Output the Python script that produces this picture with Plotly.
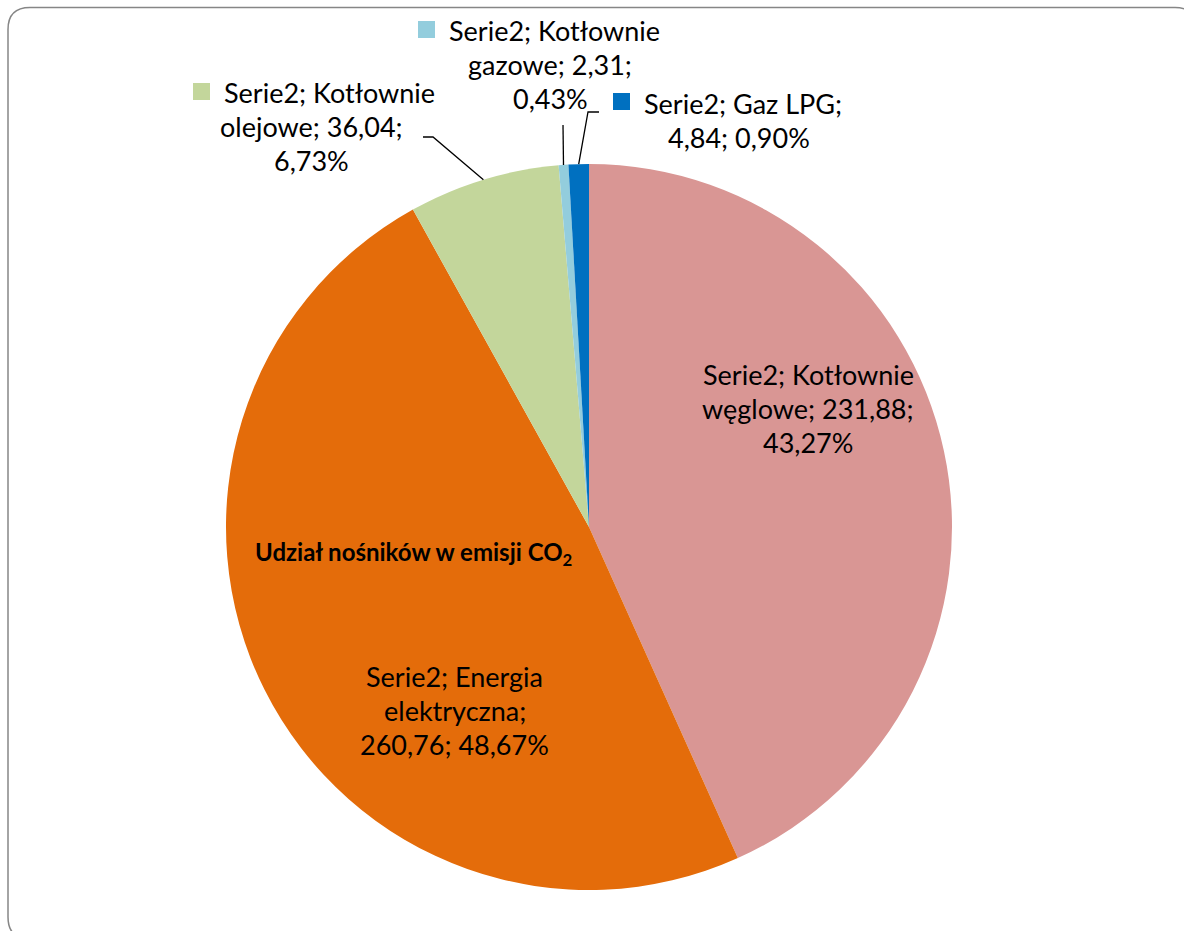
import math
import textwrap
import plotly.graph_objects as go

W, H = 1184, 931

# Data
series_name = "Serie2"
categories = ["Kotłownie węglowe", "Energia elektryczna", "Kotłownie olejowe",
              "Kotłownie gazowe", "Gaz LPG"]
emissions = [231.88, 260.76, 36.04, 2.31, 4.84]
shares = [43.27, 48.67, 6.73, 0.43, 0.90]
colors = ["#D99694", "#E46C0A", "#C3D69B", "#93CDDD", "#0070C0"]
title_text = "Udział nośników w emisji CO<sub>2</sub>"

# Pie geometry (pixels)
CX, CY, R = 589, 527, 363
FONT = "Lato"
FS = 27
LINE = 34


def px(x):
    return x / W


def py(y):
    return 1 - y / H


def pl(v):
    return f"{v:.2f}".replace(".", ",")


# Label placement: centre x, first-line y, optional legend key and first-line start
label_pos = [
    dict(cx=808, y0=374),
    dict(cx=455, y0=676),
    dict(cx=312, y0=93, key=(193, 83), x1=222),
    dict(cx=550, y0=30, key=(418, 21), x1=447),
    dict(cx=739, y0=103, key=(613, 93), x1=642),
]
# Leader-line elbows for the small slices
leader_pts = {2: [(423, 137), (433, 137)], 3: [(563, 125)], 4: [(599, 112), (588, 112)]}

fig = go.Figure(go.Pie(
    labels=categories, values=emissions, sort=False, direction="clockwise",
    rotation=0, marker=dict(colors=colors, line=dict(width=0)),
    textinfo="none", hoverinfo="label+value+percent", showlegend=False,
    domain=dict(x=[px(CX - R), px(CX + R)], y=[py(CY + R), py(CY - R)]),
))

annotations = []
shapes = []

total = sum(emissions)
cum = 0.0
for i, (cat, val, sh) in enumerate(zip(categories, emissions, shares)):
    mid = (cum + val / 2) / total
    cum += val
    ang = 2 * math.pi * mid
    ax, ay = CX + R * math.sin(ang), CY - R * math.cos(ang)

    text = f"{series_name}; {cat}; {pl(val)}; {pl(sh)}%"
    lines = textwrap.wrap(text, 17)
    lp = label_pos[i]
    for j, ln in enumerate(lines):
        y = lp["y0"] + j * LINE
        if j == 0 and "key" in lp:
            annotations.append(dict(x=px(lp["x1"]), y=py(y), xref="paper", yref="paper",
                                    text=ln, showarrow=False, xanchor="left", yanchor="middle",
                                    font=dict(family=FONT, size=FS, color="black")))
        else:
            annotations.append(dict(x=px(lp["cx"]), y=py(y), xref="paper", yref="paper",
                                    text=ln, showarrow=False, xanchor="center", yanchor="middle",
                                    font=dict(family=FONT, size=FS, color="black")))
    if "key" in lp:
        kx, ky = lp["key"]
        shapes.append(dict(type="rect", xref="paper", yref="paper",
                           x0=px(kx), x1=px(kx + 17), y0=py(ky), y1=py(ky + 17),
                           fillcolor=colors[i], line=dict(width=0)))
    if i in leader_pts:
        pts = leader_pts[i] + [(ax, ay)]
        path = "M " + " L ".join(f"{px(x)},{py(y)}" for x, y in pts)
        shapes.append(dict(type="path", xref="paper", yref="paper", path=path,
                           line=dict(color="black", width=1.3)))

# Chart title placed over the pie
annotations.append(dict(x=px(413), y=py(553), xref="paper", yref="paper",
                        text=f"<b>{title_text}</b>", showarrow=False,
                        xanchor="center", yanchor="middle",
                        font=dict(family=FONT, size=24, color="black")))

# Rounded chart-area border
L, T, Rr, B, rad = 8, 7.5, 1197, 939, 22
border = (f"M {px(L + rad)},{py(T)} L {px(Rr - rad)},{py(T)} "
          f"Q {px(Rr)},{py(T)} {px(Rr)},{py(T + rad)} "
          f"L {px(Rr)},{py(B - rad)} Q {px(Rr)},{py(B)} {px(Rr - rad)},{py(B)} "
          f"L {px(L + rad)},{py(B)} Q {px(L)},{py(B)} {px(L)},{py(B - rad)} "
          f"L {px(L)},{py(T + rad)} Q {px(L)},{py(T)} {px(L + rad)},{py(T)} Z")
shapes.append(dict(type="path", xref="paper", yref="paper", path=border,
                   line=dict(color="#868686", width=1.5)))

fig.update_layout(
    width=W, height=H, margin=dict(l=0, r=0, t=0, b=0),
    paper_bgcolor="white", plot_bgcolor="white",
    annotations=annotations, shapes=shapes,
)

fig.write_html("out.html")
